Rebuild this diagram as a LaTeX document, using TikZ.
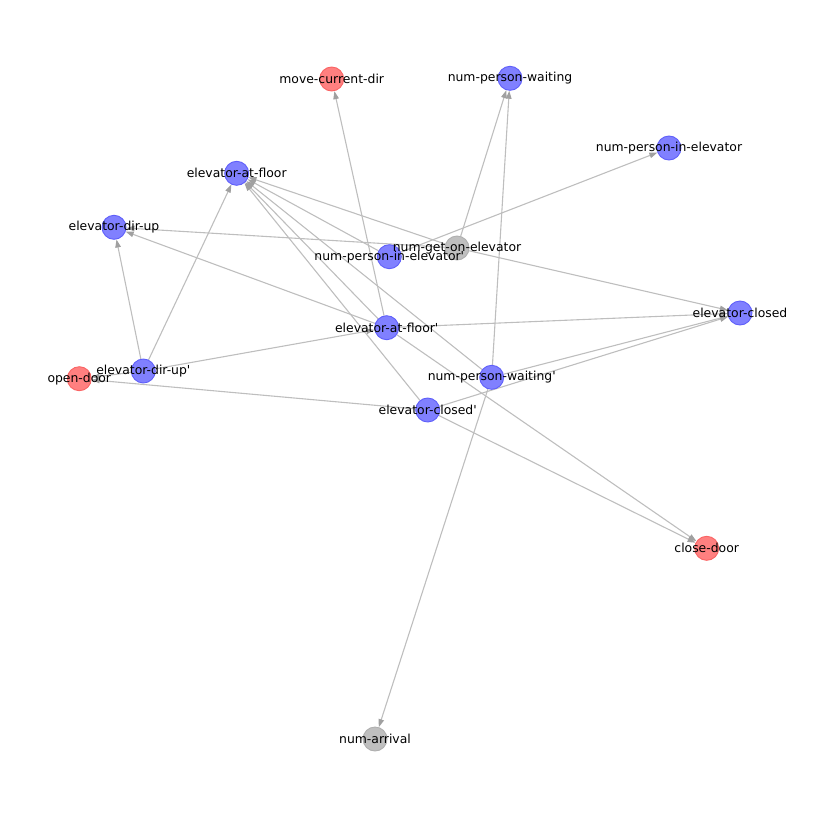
\documentclass[tikz,border=0pt]{standalone}
\usepackage{fontspec}
\newfontfamily\lblfont{DejaVu Sans}
\usetikzlibrary{arrows.meta,backgrounds}
\definecolor{bluef}{RGB}{128,128,255}
\definecolor{blued}{RGB}{95,95,250}
\definecolor{redf}{RGB}{255,128,128}
\definecolor{redd}{RGB}{250,100,100}
\definecolor{grayf}{RGB}{191,191,191}
\definecolor{grayd}{RGB}{175,175,175}
\definecolor{edgec}{RGB}{190,190,190}
\definecolor{arrc}{RGB}{160,160,160}
\begin{document}
\begin{tikzpicture}[x=1pt,y=-1pt,
  nd/.style={circle,minimum size=24pt,inner sep=0pt,line width=0.9pt},
  bn/.style={nd,fill=bluef,draw=blued},
  rn/.style={nd,fill=redf,draw=redd},
  gn/.style={nd,fill=grayf,draw=grayd},
  lbl/.style={font=\lblfont\fontsize{12.4}{14}\selectfont,inner sep=0pt,text=black},
  ed/.style={draw=edgec,line width=1.1pt,-{Triangle[length=8pt,width=5.5pt,color=arrc]}}]
\useasboundingbox (0,0) rectangle (819,819);
% nodes
\node[rn] (mcd) at (331.7,79) {};
\node[bn] (npw) at (510,78.3) {};
\node[bn] (npie) at (669,148) {};
\node[bn] (eaf) at (236.7,173.3) {};
\node[bn] (edu) at (114,227.3) {};
\node[gn] (ngoe) at (457,248) {};
\node[bn] (npiep) at (389.3,256.7) {};
\node[bn] (ec) at (740,313) {};
\node[bn] (eafp) at (386.7,327.7) {};
\node[bn] (edup) at (143.3,371) {};
\node[rn] (od) at (79.3,378.7) {};
\node[bn] (npwp) at (491.7,377.3) {};
\node[bn] (ecp) at (427.7,410) {};
\node[rn] (cd) at (706.7,548.3) {};
\node[gn] (na) at (375,739) {};
% edges
\begin{scope}[on background layer]
\draw[ed] (eafp) -- (mcd);
\draw[ed] (ngoe) -- (npw);
\draw[ed] (npwp) -- (npw);
\draw[ed] (npiep) -- (npie);
\draw[ed] (ngoe) -- (edu);
\draw[ed] (ngoe) -- (eaf);
\draw[ed] (ngoe) -- (ec);
\draw[ed] (edup) -- (edu);
\draw[ed] (edup) -- (eaf);
\draw[ed] (edup) -- (eafp);
\draw[ed] (edup) -- (od);
\draw[ed] (eafp) -- (edu);
\draw[ed] (eafp) -- (eaf);
\draw[ed] (eafp) -- (ec);
\draw[ed] (eafp) -- (cd);
\draw[ed] (npiep) -- (eaf);
\draw[ed] (npwp) -- (eaf);
\draw[ed] (ecp) -- (eaf);
\draw[ed] (npwp) -- (ec);
\draw[ed] (ecp) -- (ec);
\draw[ed] (ecp) -- (cd);
\draw[ed] (ecp) -- (od);
\draw[ed] (npwp) -- (na);
\end{scope}
% labels
\node[lbl] (mcd-t) at (mcd) {move-current-dir};
\node[lbl] (npw-t) at (npw) {num-person-waiting};
\node[lbl] (npie-t) at (npie) {num-person-in-elevator};
\node[lbl] (eaf-t) at (eaf) {elevator-at-floor};
\node[lbl] (edu-t) at (edu) {elevator-dir-up};
\node[lbl] (ngoe-t) at (ngoe) {num-get-on-elevator};
\node[lbl] (npiep-t) at (npiep) {num-person-in-elevator'};
\node[lbl] (ec-t) at (ec) {elevator-closed};
\node[lbl] (eafp-t) at (eafp) {elevator-at-floor'};
\node[lbl] (edup-t) at (edup) {elevator-dir-up'};
\node[lbl] (od-t) at (od) {open-door};
\node[lbl] (npwp-t) at (npwp) {num-person-waiting'};
\node[lbl] (ecp-t) at (ecp) {elevator-closed'};
\node[lbl] (cd-t) at (cd) {close-door};
\node[lbl] (na-t) at (na) {num-arrival};
\end{tikzpicture}
\end{document}
